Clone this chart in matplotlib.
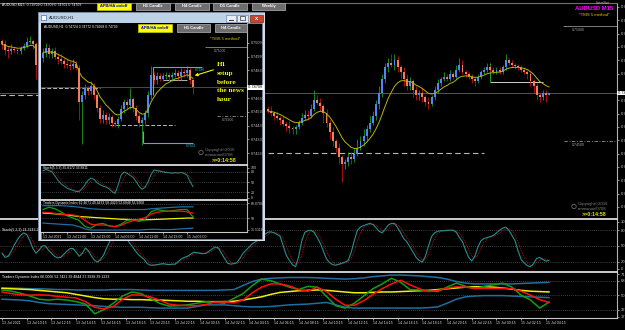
import matplotlib
matplotlib.use("Agg")
import matplotlib.pyplot as plt
from matplotlib.patches import Rectangle
import numpy as np
import pandas as pd

plt.rcParams['font.family'] = ['Liberation Sans', 'DejaVu Sans']

W, H = 625, 330
PIP = 0.0001

# ---------------- AUDUSD M15 (main window) ----------------
m15_left_open = 0.74935
m15_left_close = [0.74920, 0.74895, 0.74890, 0.74900, 0.74895, 0.74890, 0.74905, 0.74915,
                  0.74930, 0.74935, 0.74920, 0.74830]
m15_left_up = [1, 2, 2, 2, 1, 1, 1, 1, 2, 2, 1, 1]
m15_left_dn = [2, 2, 3, 1, 1, 1, 1, 1, 1, 1, 2, 6]

m15_right_first = 86
m15_right_open = 0.74640
m15_right_close = [
    0.74630, 0.74620, 0.74610, 0.74600, 0.74590, 0.74575, 0.74565, 0.74555, 0.74550, 0.74560,
    0.74580, 0.74600, 0.74615, 0.74610, 0.74640, 0.74680, 0.74665, 0.74650, 0.74620, 0.74580,
    0.74540, 0.74500, 0.74470, 0.74430, 0.74400, 0.74410, 0.74430, 0.74420, 0.74445, 0.74470,
    0.74500, 0.74520, 0.74550, 0.74580, 0.74610, 0.74660, 0.74710, 0.74770, 0.74820, 0.74840,
    0.74830, 0.74850, 0.74820, 0.74800, 0.74770, 0.74740, 0.74760, 0.74720, 0.74700, 0.74710,
    0.74690, 0.74670, 0.74660, 0.74690, 0.74720, 0.74750, 0.74770, 0.74780, 0.74770, 0.74790,
    0.74780, 0.74810, 0.74830, 0.74800, 0.74790, 0.74780, 0.74770, 0.74760, 0.74780, 0.74800,
    0.74810, 0.74820, 0.74810, 0.74800, 0.74810, 0.74800, 0.74820, 0.74850, 0.74840, 0.74830,
    0.74825, 0.74820, 0.74810, 0.74800, 0.74790, 0.74760, 0.74740, 0.74700, 0.74690, 0.74710,
    0.74700, 0.74709]
m15_right_up = [1, 2, 1, 2, 1, 2, 1, 2, 1, 1,
                1, 2, 2, 2, 2, 4, 2, 2, 1, 2,
                1, 2, 1, 2, 1, 1, 2, 2, 2, 4,
                2, 3, 2, 3, 2, 2, 3, 2, 2, 2,
                4, 3, 2, 1, 2, 2, 2, 1, 2, 1,
                2, 1, 2, 1, 2, 2, 1, 2, 1, 2,
                1, 2, 3, 2, 1, 1, 1, 1, 1, 1,
                1, 2, 1, 1, 1, 1, 1, 3, 1, 1,
                1, 1, 1, 1, 1, 1, 1, 1, 1, 1,
                1, 0]
m15_right_dn = [1, 1, 2, 1, 2, 1, 2, 2, 2, 2,
                1, 1, 1, 2, 1, 1, 1, 2, 4, 2,
                3, 2, 2, 3, 8, 2, 2, 2, 1, 1,
                1, 2, 2, 1, 1, 2, 2, 2, 2, 2,
                1, 2, 2, 3, 3, 2, 2, 3, 2, 2,
                2, 2, 2, 1, 1, 1, 1, 1, 1, 1,
                1, 1, 1, 1, 1, 1, 2, 2, 1, 1,
                1, 1, 1, 1, 1, 1, 1, 1, 1, 1,
                1, 1, 1, 1, 2, 2, 3, 2, 2, 1,
                3, 0]

m15_stoch = [36, 28, 30, 40, 52, 62, 70, 75, 72, 60,
             45, 36, 42, 50, 50, 42, 36, 30, 27, 28,
             34, 40, 45, 45, 38, 30, 36, 46, 40, 30,
             22, 19, 25, 34, 48, 60, 68, 74, 76, 72,
             66, 58, 50, 42, 34, 29, 24, 16, 13, 13,
             14, 15, 16, 15, 14, 15, 15, 20, 25, 28,
             30, 34, 38, 37, 36, 35, 36, 40, 44, 48,
             46, 36, 26, 17, 15, 16, 18, 26, 36, 42,
             48, 54, 58, 61, 66, 72, 76, 77, 75, 72,
             68, 50, 32, 22, 14, 10, 30, 60, 76, 79,
             80, 76, 66, 55, 40, 25, 18, 14, 13, 15,
             17, 19, 22, 38, 60, 80, 86, 89, 91, 93,
             91, 85, 78, 75, 82, 90, 93, 93, 85, 75,
             64, 58, 48, 38, 28, 22, 19, 30, 50, 68,
             75, 78, 79, 79, 80, 80, 80, 76, 66, 58,
             42, 28, 21, 30, 48, 60, 64, 66, 68, 70,
             75, 80, 84, 86, 80, 70, 60, 40, 24, 17,
             12, 10, 16, 26, 28, 24, 21, 22]

# TDI read every 3 bars
m15_tdi_step = 3
m15_tdi_upper = [59, 59, 58.5, 58, 58, 57.5, 57, 57, 56.5, 56.5, 56.5, 56.5, 57, 57, 57, 56.5,
                 56, 56, 56, 56, 56, 56, 56, 56, 56.5, 57,
                 62, 67, 70, 71, 71.5, 72, 72, 72, 71.5, 71, 70.5, 70, 70.5, 71.5, 73, 74, 75,
                 75, 74.5, 74, 73, 72, 70, 67, 65, 64, 64, 64, 64, 64, 64.5, 65, 65.5, 66]
m15_tdi_lower = [45, 44.5, 44, 43, 41, 39.5, 39, 38.5, 38, 37.5, 37, 36, 35.5, 35, 35, 35,
                 34.5, 34, 34, 34, 34, 36, 38, 38, 38, 37,
                 36, 35.5, 35.5, 36, 37, 38, 38.5, 39, 40, 41, 38, 35, 34, 34, 34, 34, 34, 34,
                 34, 34, 34.5, 35.5, 40, 45, 48, 49, 49.5, 49.5, 49.5, 49, 48.5, 48, 47.5, 47]
m15_tdi_base = [58.5, 58, 57.5, 57, 56, 55, 54, 53, 51, 49, 47, 45.5, 45, 45, 44.5, 44.5,
                44, 44, 43.5, 43, 42.5, 42.5, 42, 42, 42, 42.5,
                44, 46, 48, 51, 53.5, 54.5, 55.5, 56, 56.5, 56, 55, 54, 53, 53, 53.5, 54, 54,
                54.5, 55, 55.5, 56, 57, 58, 59, 60, 60.5, 60.5, 60, 59, 57.5, 56, 55, 54.5, 54]
m15_tdi_signal = [54, 52, 50.5, 50, 50.5, 50, 48.5, 47.5, 46.5, 42, 35, 33, 36, 45, 50.5, 50,
                  48, 44, 39, 37.5, 37, 37, 38.5, 41.5, 41.5, 40.5,
                  44, 53, 60, 64, 64, 61.5, 57, 55, 60, 54.5, 45, 37.5, 37.5, 43, 51, 58, 64,
                  68.5, 63, 58, 54.5, 56, 58.5, 60.5, 60, 58.5, 58.5, 58.5, 58.5, 58, 55, 50,
                  44.5, 41]
m15_tdi_rsi = [56.5, 55, 52.5, 49, 45, 44, 45, 44, 42, 39, 27, 32, 40, 49, 54, 52, 46, 40,
               36.5, 37, 38, 40, 42, 41, 40, 46,
               52, 62, 70, 68, 64, 60, 57, 61, 60, 48.5, 37, 34, 40, 49, 58, 64, 71, 66, 57,
               56.5, 55.5, 54.5, 60, 65, 61, 58, 61, 63, 65, 60, 50, 44, 34, 41.5]

m15_time_labels = ["13 Jul 2021", "13 Jul 10:15", "13 Jul 12:15", "13 Jul 14:15", "13 Jul 16:15",
                   "13 Jul 18:15", "13 Jul 20:15", "13 Jul 22:15", "14 Jul 00:15", "14 Jul 02:15",
                   "14 Jul 04:15", "14 Jul 06:15", "14 Jul 08:15", "14 Jul 10:15", "14 Jul 12:15",
                   "14 Jul 14:15", "14 Jul 16:15", "14 Jul 18:15", "14 Jul 20:15", "14 Jul 22:15",
                   "15 Jul 00:15", "15 Jul 02:15", "15 Jul 04:15"]
m15_price_ticks = [0.75083, 0.75025, 0.74967, 0.74909, 0.74851, 0.74793, 0.74677,
                   0.74619, 0.74561, 0.74503, 0.74445, 0.74387, 0.74329, 0.74271, 0.74213]
m15_last = 0.74709

# ---------------- AUDUSD H1 (inset window) ----------------
h1_open = 0.74920
h1_close = [0.74960, 0.74990, 0.74950, 0.74970, 0.74930, 0.74910, 0.74900, 0.74880, 0.74870, 0.74860,
            0.74880, 0.74850, 0.74600, 0.74650, 0.74700, 0.74680, 0.74720, 0.74650, 0.74560, 0.74480,
            0.74510, 0.74470, 0.74490, 0.74450, 0.74440, 0.74480, 0.74550, 0.74600, 0.74580, 0.74620,
            0.74560, 0.74500, 0.74450, 0.74470, 0.74520, 0.74650, 0.74800, 0.74760, 0.74790, 0.74770,
            0.74790, 0.74800, 0.74780, 0.74800, 0.74810, 0.74790, 0.74820, 0.74810, 0.74830, 0.74760,
            0.74709]
h1_up = [3, 4, 3, 2, 3, 3, 4, 2, 3, 3,
         3, 2, 2, 3, 3, 2, 3, 2, 2, 2,
         3, 2, 3, 2, 2, 2, 3, 2, 2, 8,
         2, 2, 2, 2, 2, 3, 6, 2, 3, 2,
         2, 2, 2, 2, 3, 2, 3, 2, 3, 2,
         1]
h1_dn = [3, 3, 3, 3, 2, 3, 2, 3, 2, 3,
         2, 2, 13, 30, 3, 3, 2, 3, 3, 3,
         3, 3, 3, 3, 2, 3, 2, 3, 3, 3,
         3, 3, 3, 16, 3, 3, 3, 3, 3, 2,
         2, 2, 3, 3, 2, 3, 3, 3, 3, 3,
         5]
h1_stoch = [83, 88, 84, 80, 68, 55, 45, 38, 32, 28,
            25, 22, 22, 30, 42, 55, 62, 58, 48, 42,
            38, 35, 30, 22, 16, 40, 70, 80, 76, 70,
            64, 52, 38, 28, 35, 50, 72, 86, 84, 82,
            80, 78, 78, 76, 78, 77, 78, 76, 70, 52,
            36]
# TDI read every 2 bars
h1_tdi_step = 2
h1_tdi_upper = [66, 66, 66, 66, 65.5, 65, 64, 63, 62, 61.5, 61, 61, 61, 61, 61, 61, 61, 61,
                62, 62.5, 63, 63.5, 64, 64.5, 64.5, 64.5]
h1_tdi_lower = [43.5, 43, 42.5, 42, 41.5, 41, 39, 36, 34.5, 34.5, 34.5, 34.5, 34.5, 34.5, 34.5,
                34.5, 34.5, 35, 35.5, 35.5, 35, 35, 35.5, 36, 36.5, 37]
h1_tdi_base = [56.5, 56, 55.5, 55, 54, 53, 52, 51.5, 51, 50.5, 50, 49.5, 49, 48.5, 48.2, 48,
               47.8, 47.8, 48, 48.3, 48.6, 49, 49.3, 49.6, 50, 50]
h1_tdi_signal = [57.5, 57, 56, 55, 54.5, 54, 52.5, 47, 42, 41, 41, 40, 39, 40.5, 44, 46.5,
                 48.5, 50.5, 55, 57.5, 58.5, 58.8, 58.8, 58.8, 58, 56.5]
h1_tdi_rsi = [61, 64, 62, 58, 53, 50, 47, 39, 37, 42, 43, 40, 39, 42, 47, 48, 45.5, 48, 58,
              61, 59.5, 59, 60, 61, 61, 51.5]
h1_time_labels = ["13 Jul 2021", "13 Jul 11:00", "13 Jul 19:00", "14 Jul 03:00",
                  "14 Jul 11:00", "14 Jul 19:00", "15 Jul 03:00"]
h1_price_ticks = [0.75030, 0.74930, 0.74830, 0.74630, 0.74530, 0.74430, 0.74330, 0.74230]

BULL, BEAR = '#4d88f5', '#f27d5a'
WICK_UP, WICK_DN = '#1c9a1c', '#c01414'
MA_COL = '#b8b400'
GRID = '#7a7a7a'
LBL = '#c8c8c8'


def box(x0, y0, x1, y1):
    return [x0 / W, 1 - y1 / H, (x1 - x0) / W, (y1 - y0) / H]


fig = plt.figure(figsize=(W / 100, H / 100), dpi=100, facecolor='black')


def panel(rect, xlim, ylim, z):
    ax = fig.add_axes(box(*rect))
    ax.set_facecolor('black')
    ax.set_zorder(z)
    ax.set_xlim(*xlim)
    ax.set_ylim(*ylim)
    for s in ax.spines.values():
        s.set_visible(False)
    ax.set_xticks([])
    ax.set_yticks([])
    return ax


def right_axis(ax, ticks, labels, size=3.0):
    ax.yaxis.tick_right()
    ax.set_yticks(ticks)
    ax.set_yticklabels(labels)
    ax.tick_params(axis='y', colors=LBL, labelsize=size, length=1.5, width=0.5, pad=1)
    ax.spines['right'].set_visible(True)
    ax.spines['right'].set_color('#b0b0b0')
    ax.spines['right'].set_linewidth(0.8)


def separator(ax):
    ax.spines['top'].set_visible(True)
    ax.spines['top'].set_color('#dcdcdc')
    ax.spines['top'].set_linewidth(1.3)


def candles(ax, first, o0, close, up, dn, width, span):
    close = np.array(close)
    opn = np.r_[o0, close[:-1]]
    x = np.arange(first, first + len(close))
    top = np.maximum(opn, close)
    bot = np.minimum(opn, close)
    bull = close >= opn
    hi = top + np.array(up) * PIP
    lo = bot - np.array(dn) * PIP
    ax.vlines(x, lo, hi, colors=[WICK_UP if b else WICK_DN for b in bull], lw=0.6, zorder=2)
    ax.bar(x, np.maximum(top - bot, 0.15 * PIP), bottom=bot, width=width,
           color=[BULL if b else BEAR for b in bull], linewidth=0, zorder=3)
    ma = pd.Series(close).ewm(span=span, adjust=False).mean()
    ax.plot(x, ma, color=MA_COL, lw=0.7, zorder=4)


def stoch(ax, values, lw):
    x = np.arange(len(values))
    sig = pd.Series(values).rolling(3, min_periods=1).mean()
    for lv in (80, 50, 20):
        ax.axhline(lv, color=GRID, lw=0.5, ls=(0, (1, 2)), zorder=1)
    ax.plot(x, sig, color='#b01818', lw=lw * 0.8, ls=(0, (1, 1)), zorder=2)
    ax.plot(x, values, color='#2a8e8e', lw=lw, zorder=3)


def tdi(ax, step, upper, lower, base, signal, rsi, lw):
    x = np.arange(len(upper)) * step
    for lv in (68, 50, 32):
        ax.axhline(lv, color=GRID, lw=0.5, ls=(0, (1, 2)), zorder=1)
    ax.plot(x, upper, color='#1f6ea0', lw=lw, zorder=2)
    ax.plot(x, lower, color='#1f6ea0', lw=lw, zorder=2)
    ax.plot(x, base, color='#f0f000', lw=lw, zorder=3)
    ax.plot(x, rsi, color='#10a010', lw=lw, zorder=4)
    ax.plot(x, signal, color='#ff1010', lw=lw, zorder=5)


def price_box(ax, price):
    ax.text(1.0, price, ' ' + format(price, '.5f') + ' ', transform=ax.get_yaxis_transform(),
            ha='left', va='center', fontsize=2.8, color='black', clip_on=False, zorder=8,
            bbox=dict(boxstyle='square,pad=0.1', fc='white', ec='none'))


def time_axis(ax, ticks, labels, size):
    ax.spines['bottom'].set_visible(True)
    ax.spines['bottom'].set_color('#c8c8c8')
    ax.spines['bottom'].set_linewidth(0.8)
    ax.set_xticks(ticks)
    ax.set_xticklabels(labels)
    ax.tick_params(axis='x', colors='#d8d8d8', labelsize=size, length=1.5, width=0.5, pad=1)
    for t in ax.get_xticklabels():
        t.set_ha('left')


# ---------------- main window ----------------
xl = (-0.65, 199.0)
ax_p = panel((0, 3, 617, 219), xl, (0.741605, 0.751000), 1)
ax_s = panel((0, 219, 617, 272), xl, (0, 101.5), 1)
ax_t = panel((0, 272, 617, 318), xl, (21.7, 78.8), 1)

ax_p.spines['top'].set_visible(True)
ax_p.spines['top'].set_color('#707070')
ax_p.spines['top'].set_linewidth(0.8)
right_axis(ax_p, m15_price_ticks, [format(v, '.5f') for v in m15_price_ticks])
ax_p.axhline(m15_last, color='#555555', lw=0.7, zorder=1)
price_box(ax_p, m15_last)

candles(ax_p, 0, m15_left_open, m15_left_close, m15_left_up, m15_left_dn, 0.62, 10)
candles(ax_p, m15_right_first, m15_right_open, m15_right_close, m15_right_up, m15_right_dn, 0.62, 10)

dash = (0, (5, 3))
ax_p.hlines(0.74700, -0.65, 14, colors='#b8b8b8', lw=0.8, ls=dash, zorder=1)
ax_p.hlines(0.74448, 86, 156, colors='#b8b8b8', lw=0.8, ls=dash, zorder=1)
ax_p.hlines(0.74756, 158, 175, colors='#d0d0d0', lw=0.7, zorder=1)
ax_p.vlines(158, 0.74756, 0.74839, colors='#20a020', lw=0.7, zorder=1)
ax_p.hlines(0.75000, 181.6, 199, colors='#909090', lw=0.6)
ax_p.hlines(0.74500, 182, 199, colors='#909090', lw=0.6, ls=(0, (4, 2, 1, 2)))
ax_p.text(184.5, 0.74990, '0.75000', fontsize=2.5, color='#a8a8a8', va='top')
ax_p.text(184.5, 0.74490, '0.74500', fontsize=2.5, color='#a8a8a8', va='top')

separator(ax_s)
right_axis(ax_s, [96, 80, 50, 20, 6], ['100', '80', '50', '20', '0'])
stoch(ax_s, m15_stoch, 0.8)
ax_s.text(0.003, 0.8, 'Stoch(5,3,3) 24.3243 23.4535', transform=ax_s.transAxes,
          fontsize=2.6, color='white', va='center')

separator(ax_t)
right_axis(ax_t, [76, 68, 50, 32, 23.5], ['71.7', '68', '50', '32', '17.8'])
tdi(ax_t, m15_tdi_step, m15_tdi_upper, m15_tdi_lower, m15_tdi_base, m15_tdi_signal,
    m15_tdi_rsi, 1.1)
ax_t.text(0.003, 0.89, 'Traders Dynamic Index 66.0006 52.7421 39.4844 37.3938 39.1233',
          transform=ax_t.transAxes, fontsize=2.6, color='white', va='center')
time_axis(ax_t, list(range(0, 177, 8)), m15_time_labels, 2.6)

# ---------------- inset window frame ----------------
frame = fig.add_axes(box(38, 12, 265, 241))
frame.set_xlim(38, 265)
frame.set_ylim(241, 12)
frame.axis('off')
frame.set_zorder(2)
frame.add_patch(Rectangle((38, 12), 227, 229, fc='#d3deea', ec='#7f92ab', lw=0.6))
frame.add_patch(Rectangle((39, 13), 225, 9.5, fc='#bdd1e8', ec='none'))
frame.add_patch(Rectangle((41, 23), 221, 216, fc='black', ec='#8090a8', lw=0.4))
frame.add_patch(Rectangle((41.5, 15), 5, 5, fc='white', ec='#3a6fb0', lw=0.5))
frame.text(49, 17.8, 'AUDUSD,H1', fontsize=3.2, color='#1a1a1a', va='center')
frame.add_patch(Rectangle((225.5, 14.5), 10, 7, fc='#e6edf6', ec='#7788a2', lw=0.5))
frame.plot([228.5, 232.5], [19.5, 19.5], color='#333333', lw=0.7)
frame.add_patch(Rectangle((237, 14.5), 11, 7, fc='#e6edf6', ec='#7788a2', lw=0.5))
frame.add_patch(Rectangle((240, 16.3), 5, 3.6, fc='none', ec='#333333', lw=0.5))
frame.add_patch(Rectangle((250, 14.5), 13, 7, fc='#c9462c', ec='#7a2a1a', lw=0.5))
frame.text(256.5, 18, 'x', fontsize=4, color='white', ha='center', va='center', weight='bold')

# ---------------- inset H1 chart ----------------
hx = (-0.667, 68.0)
ax_h = panel((41, 23, 247, 165), hx, (0.741445, 0.75174), 3)
ax_hs = panel((41, 165, 247, 200), hx, (-3.4, 100.6), 3)
ax_ht = panel((41, 200, 247, 232), hx, (32, 73.3), 3)

right_axis(ax_h, h1_price_ticks, [format(v, '.5f') for v in h1_price_ticks], 2.7)
ax_h.axhline(h1_close[-1], color='#555555', lw=0.6, zorder=1)
price_box(ax_h, h1_close[-1])
candles(ax_h, 0, h1_open, h1_close, h1_up, h1_dn, 0.62, 8)

ax_h.hlines(0.74703, -0.6, 19, colors='#b8b8b8', lw=0.7, ls=(0, (4, 2)), zorder=1)
ax_h.hlines(0.74435, 22.3, 44, colors='#b8b8b8', lw=0.7, ls=(0, (4, 2)), zorder=1)
ax_h.hlines(0.74761, 40, 48, colors='#d0d0d0', lw=0.6, zorder=1)
ax_h.hlines(0.75000, 54, 68, colors='#909090', lw=0.6)
ax_h.hlines(0.74500, 58, 68, colors='#909090', lw=0.6, ls=(0, (4, 2, 1, 2)))
ax_h.text(57, 0.74985, '0.75000', fontsize=2.4, color='#a8a8a8', va='top')
ax_h.text(59.5, 0.74485, '0.74500', fontsize=2.4, color='#a8a8a8', va='top')
cyan = '#34bccc'
ax_h.hlines(0.74855, 36.7, 53, colors=cyan, lw=0.8, zorder=5)
ax_h.vlines(36.7, 0.74650, 0.74855, colors=cyan, lw=0.8, zorder=5)
ax_h.text(50.5, 0.74845, '0.7486', fontsize=2.4, color=cyan, va='top', zorder=5)
ax_h.hlines(0.74304, 33.3, 50, colors=cyan, lw=0.8, zorder=5)
ax_h.vlines(33.3, 0.74304, 0.74390, colors=cyan, lw=0.8, zorder=5)
ax_h.text(47.5, 0.74294, '0.7431', fontsize=2.4, color=cyan, va='top', zorder=5)

separator(ax_hs)
right_axis(ax_hs, [92, 80, 50, 20, 3], ['100', '80', '50', '20', '0'], 2.6)
stoch(ax_hs, h1_stoch, 0.7)
ax_hs.text(0.01, 0.9, 'Stoch(5,3,3) 35.8172 33.8811', transform=ax_hs.transAxes,
           fontsize=2.4, color='white', va='center')

separator(ax_ht)
right_axis(ax_ht, [69, 50, 35], ['68.8780', '50', '31.5116'], 2.5)
tdi(ax_ht, h1_tdi_step, h1_tdi_upper, h1_tdi_lower, h1_tdi_base, h1_tdi_signal, h1_tdi_rsi, 0.9)
ax_ht.text(0.01, 0.9, 'Traders Dynamic Index 62.4671 49.4433 58.4423 52.6848 56.9268',
           transform=ax_ht.transAxes, fontsize=2.4, color='white', va='center')
time_axis(ax_ht, list(range(0, 49, 8)), h1_time_labels, 2.5)

# ---------------- overlay: buttons and labels ----------------
ov = fig.add_axes([0, 0, 1, 1])
ov.set_xlim(0, W)
ov.set_ylim(H, 0)
ov.axis('off')
ov.set_zorder(10)


def button(x0, y0, x1, y1, text, yellow=False):
    fc, ec, tc = ('#ffff00', '#c8c800', '#0000c8') if yellow else ('#6e6e6e', '#b4b4b4', 'white')
    ov.add_patch(Rectangle((x0, y0), x1 - x0, y1 - y0, fc=fc, ec=ec, lw=0.5))
    ov.text((x0 + x1) / 2, (y0 + y1) / 2 + 0.3, text, fontsize=2.9, color=tc, weight='bold',
            ha='center', va='center')


ov.text(2, 5, 'AUDUSD,M15  0.74709 0.74709 0.74701 0.74709', fontsize=2.5, color='white', va='center')
button(97, 2.5, 131, 9.5, 'APB/HA on/off', True)
button(136, 2.5, 170, 9.5, 'H1 Candle')
button(175, 2.5, 209, 9.5, 'H4 Candle')
button(213, 2.5, 247, 9.5, 'D1 Candle')
button(252, 2.5, 285, 9.5, 'Weekly')

ov.text(603, 3, 'ScreenShot', fontsize=1.9, color='#c0c0c0', ha='center', va='center')
ov.text(594, 8.5, 'AUDUSD M15', fontsize=4.2, color='#ff00ff', weight='bold', ha='center', va='center')
ov.text(594, 15.5, '*TMS 5 method*', fontsize=3.1, color='#e6c200', ha='center', va='center')
ov.add_patch(plt.Circle((574, 206.5), 2.2, fc='none', ec='#7a7a7a', lw=0.5))
ov.text(578, 204, 'Copyright©2016', fontsize=3.1, color='#808080', va='center')
ov.text(578, 209.3, 'emmanuel0708', fontsize=3.1, color='#808080', va='center')
ov.text(582, 214.5, '>>0:14:58', fontsize=3.9, color='#e0e000', weight='bold', va='center')

ov.text(44, 26.5, 'AUDUSD,H1  0.74724 0.74772 0.74668 0.74709', fontsize=2.4, color='white', va='center')
button(138, 24, 172, 31.5, 'APB/HA on/off', True)
button(177, 24, 210, 31.5, 'H1 Candle')
button(215, 24, 247, 31.5, 'H4 Candle')
ov.text(225, 39, '*TMS 5 method*', fontsize=3.0, color='#e6c200', ha='center', va='center')
ov.add_patch(plt.Circle((201, 152.5), 2.2, fc='none', ec='#7a7a7a', lw=0.5))
ov.text(205, 150, 'Copyright©2016', fontsize=3.1, color='#808080', va='center')
ov.text(205, 155.3, 'emmanuel0708', fontsize=3.1, color='#808080', va='center')
ov.text(212, 160.5, '>>0:14:58', fontsize=3.9, color='#e0e000', weight='bold', va='center')

note = ['H1', 'setup', 'before', 'the news', 'hour']
for i, line in enumerate(note):
    ov.text(217, 64.5 + 8.8 * i, line, fontsize=5.2, color='#f2f200', weight='bold',
            family=['Liberation Serif', 'DejaVu Serif'], va='center')
ov.annotate('', xy=(192, 76.5), xytext=(216, 69),
            arrowprops=dict(arrowstyle='-|>', color='#f2f200', lw=0.8, mutation_scale=4))

fig.savefig('out.png', dpi=100, facecolor='black')
